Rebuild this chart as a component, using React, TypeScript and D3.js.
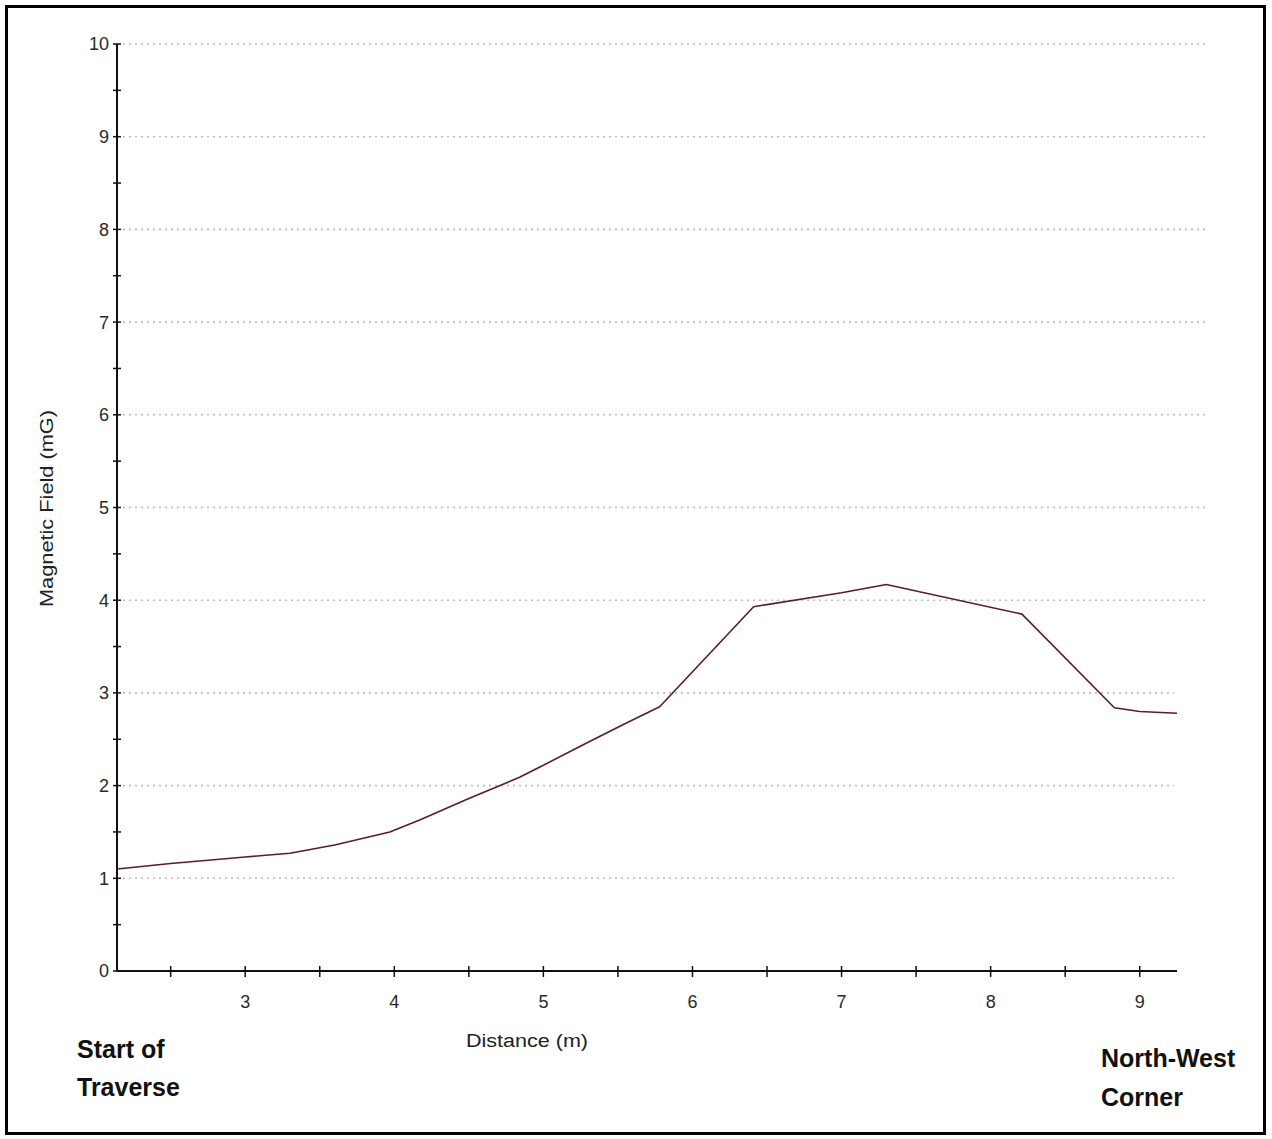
import React from "react";
import * as d3 from "d3";

// Traverse measurements: distance along the traverse (m) and field strength (mG)
const distance = [2.14, 2.5, 3.0, 3.3, 3.6, 3.97, 4.17, 4.5, 4.84, 5.0, 5.29, 5.55, 5.78, 6.41, 7.0, 7.3, 8.21, 8.83, 9.0, 9.25];
const fieldMG = [1.1, 1.16, 1.23, 1.27, 1.36, 1.5, 1.63, 1.86, 2.09, 2.22, 2.46, 2.67, 2.85, 3.93, 4.08, 4.17, 3.85, 2.84, 2.8, 2.78];

const yTickValues = [0, 1, 2, 3, 4, 5, 6, 7, 8, 9, 10];
const yMinorValues = [0.5, 1.5, 2.5, 3.5, 4.5, 5.5, 6.5, 7.5, 8.5, 9.5];
const xTickValues = [3, 4, 5, 6, 7, 8, 9];
const xMinorValues = [2.5, 3.5, 4.5, 5.5, 6.5, 7.5, 8.5];

const xDomain: [number, number] = [2.14, 9.25];
const yDomain: [number, number] = [0, 10];

const W = 1272;
const H = 1139;
const FONT = "Arial, 'Liberation Sans', Helvetica, sans-serif";

export default function App() {
  const x = d3.scaleLinear().domain(xDomain).range([117, 1177]);
  const y = d3.scaleLinear().domain(yDomain).range([971, 44]);

  const pts: [number, number][] = distance.map((d, i) => [d, fieldMG[i]]);
  const line = d3
    .line<[number, number]>()
    .x((d) => x(d[0]))
    .y((d) => y(d[1]));

  const x0 = x(xDomain[0]);
  const gridEnd = 1208;

  return (
    <svg
      width={W}
      height={H}
      style={{ position: "absolute", left: 0, top: 0, background: "#fff" }}
      fontFamily={FONT}
    >
      <rect x={0} y={0} width={W} height={H} fill="#fff" />
      <rect x={6.5} y={6.5} width={1258} height={1127} fill="none" stroke="#000" strokeWidth={3} />

      {/* horizontal dotted grid */}
      {yTickValues
        .filter((v) => v > 0)
        .map((v) => (
          <line
            key={"g" + v}
            x1={x0 + 6}
            x2={v <= 3 ? 1174 : gridEnd}
            y1={y(v)}
            y2={y(v)}
            stroke="#bdbdbd"
            strokeWidth={1.6}
            strokeDasharray="2 4"
          />
        ))}

      {/* y axis */}
      <line x1={x0} x2={x0} y1={y(10)} y2={y(0)} stroke="#111" strokeWidth={2} />
      {yTickValues.map((v) => (
        <g key={"yt" + v}>
          <line x1={x0 - 4} x2={x0 + 4} y1={y(v)} y2={y(v)} stroke="#111" strokeWidth={1.5} />
          <text x={x0 - 8} y={y(v)} dy="0.36em" textAnchor="end" fontSize={18} fill="#2a2a2a">
            {v}
          </text>
        </g>
      ))}
      {yMinorValues.map((v) => (
        <line key={"ym" + v} x1={x0 - 4} x2={x0 + 4} y1={y(v)} y2={y(v)} stroke="#111" strokeWidth={1.5} />
      ))}

      {/* x axis */}
      <line x1={x0} x2={x(xDomain[1])} y1={y(0)} y2={y(0)} stroke="#111" strokeWidth={2} />
      {xMinorValues.map((v) => (
        <line key={"xm" + v} x1={x(v)} x2={x(v)} y1={y(0) - 5} y2={y(0) + 6} stroke="#111" strokeWidth={1.5} />
      ))}
      {xTickValues.map((v) => (
        <g key={"xt" + v}>
          <line x1={x(v)} x2={x(v)} y1={y(0) - 5} y2={y(0) + 6} stroke="#111" strokeWidth={1.5} />
          <text x={x(v)} y={1008} textAnchor="middle" fontSize={18} fill="#2a2a2a">
            {v}
          </text>
        </g>
      ))}

      {/* axis titles */}
      <text
        x={466}
        y={1047}
        fontSize={18}
        fill="#222"
        textLength={122}
        lengthAdjust="spacingAndGlyphs"
      >
        Distance (m)
      </text>
      <text
        transform={`translate(53, 607) rotate(-90)`}
        fontSize={18}
        fill="#222"
        textLength={197}
        lengthAdjust="spacingAndGlyphs"
      >
        Magnetic Field (mG)
      </text>

      {/* data line */}
      <path d={line(pts) || ""} fill="none" stroke="#5a1e1e" strokeWidth={1.6} strokeLinejoin="round" />

      {/* end labels */}
      <g fontSize={25} fontWeight="bold" fill="#111">
        <text x={77} y={1058}>Start of</text>
        <text x={77} y={1096}>Traverse</text>
        <text x={1101} y={1067}>North-West</text>
        <text x={1101} y={1106}>Corner</text>
      </g>
    </svg>
  );
}
